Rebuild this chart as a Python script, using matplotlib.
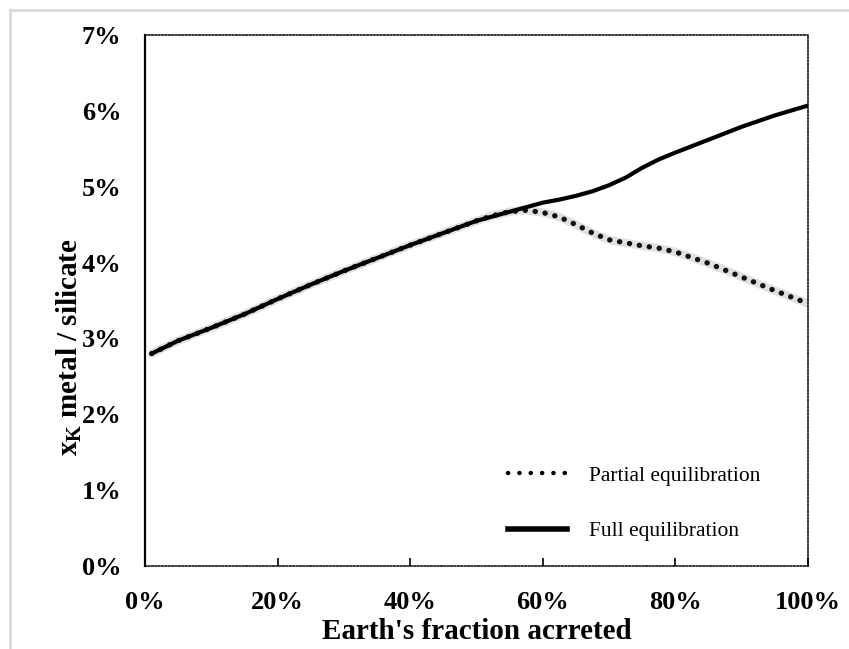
import matplotlib
matplotlib.use("Agg")
import matplotlib.pyplot as plt
from matplotlib.lines import Line2D
from matplotlib.ticker import PercentFormatter

plt.rcParams['font.family'] = ['Liberation Serif', 'DejaVu Serif']
plt.rcParams['mathtext.fontset'] = 'custom'
plt.rcParams['mathtext.rm'] = 'Liberation Serif:bold'
plt.rcParams['mathtext.it'] = 'Liberation Serif:bold'
plt.rcParams['mathtext.bf'] = 'Liberation Serif:bold'

# fraction of Earth accreted (0-1) and x_K metal/silicate (%)
frac = [0.01, 0.05, 0.10, 0.15, 0.20, 0.25, 0.30, 0.35, 0.40, 0.45, 0.50,
        0.525, 0.55, 0.575, 0.60, 0.625, 0.65, 0.675, 0.70, 0.725, 0.75,
        0.775, 0.80, 0.85, 0.90, 0.95, 1.00]
full_eq = [2.80, 2.97, 3.14, 3.32, 3.52, 3.71, 3.89, 4.06, 4.23, 4.39, 4.55,
           4.61, 4.67, 4.73, 4.79, 4.83, 4.88, 4.94, 5.02, 5.12, 5.25,
           5.36, 5.45, 5.62, 5.79, 5.94, 6.07]
partial_eq = [2.80, 2.97, 3.14, 3.32, 3.52, 3.71, 3.89, 4.06, 4.23, 4.39, 4.55,
              4.62, 4.67, 4.69, 4.66, 4.60, 4.50, 4.39, 4.30, 4.26, 4.22,
              4.19, 4.14, 3.99, 3.81, 3.63, 3.46]

xticks = [0, 0.2, 0.4, 0.6, 0.8, 1.0]
yticks = [0, 1, 2, 3, 4, 5, 6, 7]

fig = plt.figure(figsize=(8.49, 6.49), dpi=100)
ax = fig.add_axes([145/849, 1-566/649, (808-145)/849, (566-35)/649])

# light gray frame around the figure (top and left edges visible)
fig.add_artist(Line2D([10/849, 1], [1-10/649, 1-10/649], color='#d9d9d9', lw=2, transform=fig.transFigure))
fig.add_artist(Line2D([10/849, 10/849], [0, 1-10/649], color='#d9d9d9', lw=2, transform=fig.transFigure))

# partial: gray halo plus black dots
ax.plot(frac, partial_eq, color='#e0e0e0', lw=6, solid_capstyle='round',
        solid_joinstyle='round', zorder=2)
ax.plot(frac, partial_eq, color='#111111', lw=3.8, linestyle=(0, (0.05, 1.85)),
        dash_capstyle='round', zorder=3)
ax.plot(frac, full_eq, color='black', lw=3, solid_capstyle='round',
        solid_joinstyle='round', zorder=4)

ax.set_xlim(0, 1)
ax.set_ylim(0, 7)
ax.set_xticks(xticks)
ax.set_yticks(yticks)
ax.xaxis.set_major_formatter(PercentFormatter(1.0, decimals=0))
ax.yaxis.set_major_formatter(PercentFormatter(100, decimals=0))
ax.tick_params(axis='x', direction='in', length=6, width=1.2, pad=18, labelsize=19)
ax.tick_params(axis='y', length=0, pad=17, labelsize=19)
for lab in ax.get_xticklabels() + ax.get_yticklabels():
    lab.set_fontweight('bold')

for s in ['top', 'right', 'bottom']:
    ax.spines[s].set_linestyle((0, (1, 1.2)))
    ax.spines[s].set_linewidth(1.1)
ax.spines['left'].set_linewidth(1.6)

ax.set_xlabel("Earth's fraction acrreted", fontsize=21, fontweight='bold', labelpad=3)
ax.set_ylabel(r"x$_{\mathrm{K}}$ metal / silicate", fontsize=21, fontweight='bold')
ax.yaxis.set_label_coords(-(145-84)/663, 0.412)

handles = [Line2D([], [], color='black', lw=3.2, linestyle=(0, (0.05, 2.5)), dash_capstyle='round'),
           Line2D([], [], color='black', lw=4)]
ax.legend(handles, ['Partial equilibration', 'Full equilibration'], frameon=False,
          loc='center left', bbox_to_anchor=(508/849, 1-503.5/649), bbox_transform=fig.transFigure,
          borderpad=0, borderaxespad=0, fontsize=15.5, handlelength=2.74,
          handletextpad=1.0, labelspacing=1.65)

fig.savefig('out.png', dpi=100)
